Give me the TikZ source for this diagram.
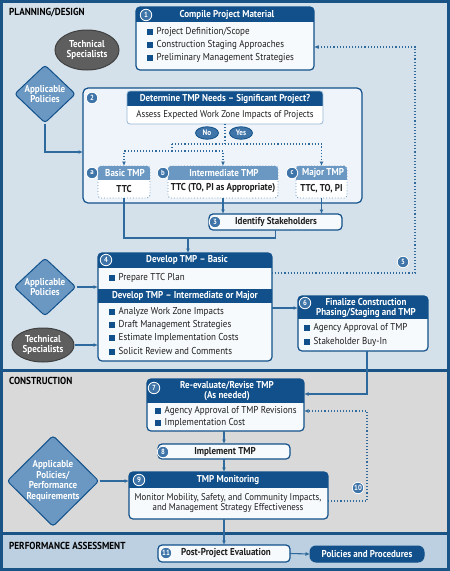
\documentclass[tikz,border=0pt]{standalone}
\usepackage{fontspec}
\setmainfont{PT Sans}[FakeStretch=0.9]
\usetikzlibrary{shapes.geometric,arrows.meta,calc,fit}
\definecolor{frame}{HTML}{1A5486}
\definecolor{hdr}{HTML}{11508A}
\definecolor{plan}{HTML}{D4E1EB}
\definecolor{cons}{HTML}{D9D9D9}
\definecolor{perf}{HTML}{BCD0E1}
\definecolor{boxbg}{HTML}{F7FAFC}
\definecolor{bigbg}{HTML}{EEF4F9}
\definecolor{midb}{HTML}{6A98C2}
\definecolor{conn}{HTML}{2F6A9E}
\definecolor{badgeb}{HTML}{3E74A8}
\definecolor{grayell}{HTML}{5E5E5E}
\definecolor{txt}{HTML}{1E1E1E}
\newcommand\bul{\textcolor{hdr}{\rule{5.5pt}{5.5pt}}\hspace{4pt}}
\newcommand\MyHdrBox[6]{%
  \fill[boxbg,rounded corners=4pt] (#2,#3) rectangle (#4,#5);
  \begin{scope}\clip[rounded corners=4pt] (#2,#3) rectangle (#4,#5);
    \fill[hdr] (#2,#3) rectangle (#4,#6);\end{scope}
  \node[fit={(#2,#3)(#4,#5)},inner sep=0pt,outer sep=0pt,draw=hdr,line width=1.2pt,rounded corners=4pt] (#1) {};}
\tikzset{
  hdrtxt/.style={text=white,font=\fontsize{10}{10.5}\selectfont\bfseries,inner sep=0pt,align=center},
  bodytxt/.style={text=txt,font=\fontsize{9.8}{10}\selectfont,inner sep=0pt,align=center},
  boldtxt/.style={text=txt,font=\fontsize{10}{10.5}\selectfont\bfseries,inner sep=0pt,align=center},
  itemtxt/.style={text=txt,font=\fontsize{10}{10}\selectfont,inner sep=0pt,anchor=west},
  sectxt/.style={text=black,font=\fontsize{10.2}{10.5}\selectfont\bfseries,inner sep=0pt,anchor=west},
  badge/.style={circle,fill=badgeb,draw=white,line width=0.8pt,inner sep=0pt,minimum size=11.5pt,text=white,font=\fontsize{7.5}{7.5}\selectfont\bfseries},
  techell/.style={ellipse,fill=grayell,draw=black!75,line width=1pt,inner sep=0pt,text=white,font=\fontsize{10}{10.5}\selectfont\bfseries,align=center},
  poldia/.style={diamond,fill=midb,draw=hdr,line width=1pt,inner sep=0pt,rounded corners=3pt},
  diatxt/.style={text=white,font=\fontsize{10}{10.4}\selectfont\bfseries,align=center,inner sep=0pt},
  yesno/.style={ellipse,fill=badgeb,draw=hdr,line width=0.8pt,inner sep=0pt,minimum width=23pt,minimum height=12.5pt,text=white,font=\fontsize{8}{8}\selectfont\bfseries},
  arr/.style={draw=conn,line width=1.1pt,-{Latex[length=4.5pt,width=4pt]}},
  plain/.style={draw=conn,line width=1.1pt},
  dotl/.style={draw=conn,line width=1.1pt,dotted},
  dotarr/.style={draw=conn,line width=1.1pt,dotted,-{Latex[length=4.5pt,width=4pt]}},
  wbox/.style={inner sep=0pt,outer sep=0pt,fill=boxbg,draw=hdr,line width=1.2pt,rounded corners=4pt},
}
\begin{document}
\begin{tikzpicture}[x=1pt,y=-1pt,font=\fontsize{8.5}{10}\selectfont]
\useasboundingbox (0,0) rectangle (450,571);
% regions
\fill[frame] (0,0) rectangle (450,571);
\fill[plan] (3,3) rectangle (447,369);
\fill[cons] (3,371.5) rectangle (447,532);
\fill[perf] (3,534.5) rectangle (447,568);
\node[sectxt] (s1) at (9,13) {PLANNING/DESIGN};
\node[sectxt] (s2) at (9,381) {CONSTRUCTION};
\node[sectxt] (s3) at (9,546) {PERFORMANCE ASSESSMENT};

% box 1
\MyHdrBox{b1}{136}{7}{314}{70}{22}
\node[badge] (n1) at (146,15) {1};
\node[hdrtxt] (t1) at (227,15) {Compile Project Material};
\node[itemtxt] (i11) at (147,32) {\bul Project Definition/Scope};
\node[itemtxt] (i12) at (147,45) {\bul Construction Staging Approaches};
\node[itemtxt] (i13) at (147,58) {\bul Preliminary Management Strategies};

% technical specialists 1, policies 1
\node[techell,minimum width=64pt,minimum height=40pt] (ts1) at (87,50) {Technical\\Specialists};
\node[poldia,minimum width=61pt,minimum height=58pt] (d1) at (45,94) {};
\node[diatxt] (d1t) at (d1) {Applicable\\Policies};

% box 2
\node[fit={(83,88)(362,203)},inner sep=0pt,outer sep=0pt,fill=bigbg,draw=hdr,line width=1.2pt,rounded corners=5pt] (b2) {};
\node[badge] (n2) at (92,98) {2};
\fill[white,rounded corners=3pt] (127,91) rectangle (323,124);
\begin{scope}\clip[rounded corners=3pt] (127,91) rectangle (323,124);
\fill[hdr] (127,91) rectangle (323,106);\end{scope}
\node[fit={(127,91)(323,124)},inner sep=0pt,outer sep=0pt,draw=midb!70,line width=0.8pt,rounded corners=3pt] (dq) {};
\node[hdrtxt] (tq) at (225,98.5) {Determine TMP Needs -- Significant Project?};
\node[bodytxt] (tq2) at (225,115) {Assess Expected Work Zone Impacts of Projects};
\node[yesno] (no) at (207,133) {No};
\node[yesno] (yes) at (241,133) {Yes};
\coordinate (p2) at (83,152);
\draw[arr] (d1.south) |- (p2);

% boxes a b c
\foreach \nm/\l/\r in {ba/98/150, bb/168/278, bc/296/347}{
  \fill[white,rounded corners=3pt] (\l,166) rectangle (\r,198);
  \begin{scope}\clip[rounded corners=3pt] (\l,166) rectangle (\r,198);
  \fill[midb] (\l,166) rectangle (\r,180);\end{scope}
  \node[fit={(\l,166)(\r,198)},inner sep=0pt,outer sep=0pt,draw=midb,dotted,line width=0.9pt,rounded corners=3pt] (\nm) {};
}
\node[badge] (na) at (92,173) {a};
\node[badge] (nb) at (163,173) {b};
\node[badge] (nc) at (292,173) {c};
\node[hdrtxt] (ta) at (125,173) {Basic TMP};
\node[hdrtxt] (tb) at (224,173) {Intermediate TMP};
\node[hdrtxt] (tc) at (323,173) {Major TMP};
\node[boldtxt] (ta2) at (124,188.5) {TTC};
\node[boldtxt] (tb2) at (223,188.5) {TTC (TO, PI as Appropriate)};
\node[boldtxt] (tc2) at (321.5,188.5) {TTC, TO, PI};

\coordinate (sp1) at (172,144);
\coordinate (sp2) at (172,151);
\draw[dotl] (dq.south) -- (dq.south |- sp1);
\draw[dotarr] (sp1) -| (bc.north);
\draw[dotl] (sp1) -- (sp2);
\draw[dotarr] (sp2) -| (ba.north);
\draw[dotarr] (sp2) -| (bb.north);

% box 3
\node[wbox,fit={(209,214)(342,230)}] (b3) {};
\node[badge] (n3) at (215,222) {3};
\node[boldtxt] (t3) at (276,222) {Identify Stakeholders};
\draw[arr] (bb.south) -- (bb.south |- b3.north);
\draw[arr] (bc.south) -- (bc.south |- b3.north);

% box 4
\fill[boxbg,rounded corners=4pt] (98,253) rectangle (272,361);
\begin{scope}\clip[rounded corners=4pt] (98,253) rectangle (272,361);
\fill[hdr] (98,253) rectangle (272,268);
\fill[hdr] (98,289) rectangle (272,303);\end{scope}
\node[fit={(98,253)(272,361)},inner sep=0pt,outer sep=0pt,draw=hdr,line width=1.2pt,rounded corners=4pt] (b4) {};
\node[badge] (n4) at (106,260) {4};
\node[hdrtxt] (t4) at (187,260) {Develop TMP -- Basic};
\node[itemtxt] (i41) at (109,278) {\bul Prepare TTC Plan};
\node[hdrtxt] (t4b) at (185,296) {Develop TMP -- Intermediate or Major};
\node[itemtxt] (i42) at (109,312) {\bul Analyze Work Zone Impacts};
\node[itemtxt] (i43) at (109,325) {\bul Draft Management Strategies};
\node[itemtxt] (i44) at (109,338) {\bul Estimate Implementation Costs};
\node[itemtxt] (i45) at (109,351) {\bul Solicit Review and Comments};

\coordinate (m4) at (188,238);
\draw[plain] (ba.south) |- (m4) -| (b3.south);
\draw[arr] (m4) -- (m4 |- b4.north);

\node[poldia,minimum width=62pt,minimum height=58pt] (d2) at (45,287) {};
\node[diatxt] (d2t) at (d2) {Applicable\\Policies};
\node[techell,minimum width=62pt,minimum height=34pt] (ts2) at (43,345) {Technical\\Specialists};
\draw[arr] (d2.east) -- (d2.east -| b4.west);
\draw[arr] (ts2) -- (ts2 -| b4.west);

% box 6
\MyHdrBox{b6}{298}{296}{428}{351}{319}
\node[badge] (n6) at (305,303) {6};
\node[hdrtxt] (t6) at (366,308) {Finalize Construction\\Phasing/Staging and TMP};
\node[itemtxt] (i61) at (304,328) {\bul Agency Approval of TMP};
\node[itemtxt] (i62) at (304,342) {\bul Stakeholder Buy-In};
\coordinate (p6) at (298,308);
\draw[arr] (p6 -| b4.east) -- (p6);

% feedback 5
\coordinate (p5) at (415,273);
\coordinate (q5) at (415,47);
\draw[dotarr] (b4.east |- p5) -- (p5) -- (q5) -- (q5 -| b1.east);
\node[badge] (n5) at (403,262) {5};

% box 7
\MyHdrBox{b7}{147}{379}{304}{431}{403}
\node[badge] (n7) at (154,388) {7};
\node[hdrtxt] (t7) at (227,391) {Re-evaluate/Revise TMP\\(As needed)};
\node[itemtxt] (i71) at (155,411) {\bul Agency Approval of TMP Revisions};
\node[itemtxt] (i72) at (155,423) {\bul Implementation Cost};
\coordinate (p7) at (367,394);
\draw[arr] (b6.south -| p7) -- (p7) -- (p7 -| b7.east);

% box 8
\node[wbox,fit={(158,444)(290,459)}] (b8) {};
\node[badge] (n8) at (163,452) {8};
\node[boldtxt] (t8) at (225,451.5) {Implement TMP};
\draw[arr] (b8.north |- b7.south) -- (b8.north);

% box 9
\MyHdrBox{b9}{129}{472}{328}{519}{488}
\node[badge] (n9) at (139,480) {9};
\node[hdrtxt] (t9) at (228,480) {TMP Monitoring};
\node[bodytxt,font=\fontsize{9.8}{10.5}\selectfont] (t92) at (228,503) {Monitor Mobility, Safety, and Community Impacts,\\and Management Strategy Effectiveness};
\draw[arr] (b8.south) -- (b8.south |- b9.north);
\node[poldia,minimum width=92pt,minimum height=91pt] (d3) at (53,481) {};
\node[diatxt] (d3t) at (d3) {Applicable\\Policies/\\Performance\\Requirements};
\draw[arr] (d3.east) -- (d3.east -| b9.west);

% feedback 10
\coordinate (p10) at (367,501);
\coordinate (q10) at (367,411);
\draw[dotarr] (b9.east |- p10) -- (p10) -- (q10) -- (q10 -| b7.east);
\node[badge] (n10) at (358,488) {10};

% box 11
\node[wbox,fit={(158,545)(290,562)}] (b11) {};
\node[badge] (n11) at (166,553) {11};
\node[boldtxt] (t11) at (226,553) {Post-Project Evaluation};
\draw[arr] (b11.north |- b9.south) -- (b11.north);
\node[fit={(310,546)(424,562)},inner sep=0pt,outer sep=0pt,fill=hdr,draw=hdr,line width=1pt,rounded corners=6pt] (pp) {};
\node[hdrtxt] (tpp) at (367,554) {Policies and Procedures};
\draw[arr] (b11.east) -- (pp.west);
\end{tikzpicture}
\end{document}
